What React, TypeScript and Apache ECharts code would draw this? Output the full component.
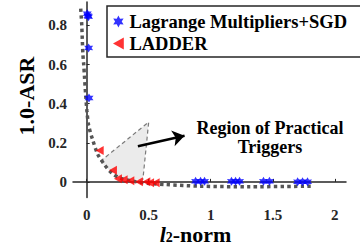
import React, { useEffect, useRef } from "react";
import * as echarts from "echarts";

// Tick values
const xTicks = [0, 0.5, 1, 1.5, 2];
const yTicks = [0, 0.2, 0.4, 0.6, 0.8];

// Fitted trend curve
const curveX = [-0.048, -0.04, -0.035, -0.03, -0.024, -0.016, -0.008, 0.002, 0.016, 0.048, 0.091, 0.145, 0.199, 0.266, 0.373, 0.507, 0.642, 0.91, 1.31, 1.81];
const curveY = [0.886, 0.809, 0.727, 0.65, 0.604, 0.524, 0.446, 0.364, 0.289, 0.216, 0.139, 0.087, 0.047, 0.02, 0.003, -0.008, -0.014, -0.022, -0.025, -0.022];

// Lagrange Multipliers+SGD
const lagX = [0.005, 0.01, 0.015, 0.016, 0.019, 0.878, 0.918, 0.95, 1.167, 1.2, 1.232, 1.425, 1.473, 1.7, 1.74, 1.78];
const lagY = [0.86, 0.85, 0.845, 0.685, 0.429, 0.003, 0.003, 0.003, 0.003, 0.003, 0.003, 0.003, 0.003, 0.0, 0.0, 0.0];

// LADDER
const ladX = [0.105, 0.212, 0.252, 0.298, 0.352, 0.421, 0.481, 0.511, 0.556];
const ladY = [0.161, 0.059, 0.016, 0.011, 0.006, 0.001, 0.001, -0.004, -0.004];

// Region of practical triggers (shaded area)
const regionX = [0.11, 0.5, 0.453, 0.35, 0.27, 0.2, 0.15];
const regionY = [0.105, 0.306, 0.011, 0.012, 0.025, 0.05, 0.08];
// dashed outline: left -> top -> bottom
const outlineIdx = [0, 1, 2];

// Arrow
const arrowFrom = [0.413, 0.182];
const arrowTo = [0.789, 0.236];

const seriesNames = ["Lagrange Multipliers+SGD", "LADDER"];

const STAR =
  "path://M10,0L12.75,5.24L18.66,5L15.5,10L18.66,15L12.75,14.76L10,20L7.25,14.76L1.34,15L4.5,10L1.34,5L7.25,5.24Z";
const TRI_LEFT = "path://M0,5L9,0L9,10Z";

const FONT = "Liberation Serif";
const AXIS_COLOR = "#262626";

export default function App() {
  const ref = useRef<HTMLDivElement>(null);
  useEffect(() => {
    if (!ref.current) return;
    const chart = echarts.init(ref.current, undefined, { renderer: "svg" });
    const axisCommon = {
      type: "value" as const,
      splitLine: { show: false },
      axisLine: { show: true, lineStyle: { color: AXIS_COLOR, width: 1.5 } },
      axisTick: { show: true, inside: true, length: 3, lineStyle: { color: AXIS_COLOR, width: 1 } },
    };
    const option: any = {
      animation: false,
      backgroundColor: "#ffffff",
      textStyle: { fontFamily: FONT },
      grid: { left: 73, top: 2, right: 14, bottom: 49.5, containLabel: false, outerBoundsMode: "none" },
      xAxis: {
        ...axisCommon,
        min: -0.11,
        max: 2.09,
        axisTick: { ...axisCommon.axisTick, customValues: xTicks },
        axisLabel: {
          customValues: xTicks,
          formatter: (v: number) => String(v),
          fontFamily: FONT,
          fontWeight: "bold",
          fontSize: 15,
          color: AXIS_COLOR,
          margin: 10,
        },
      },
      yAxis: {
        ...axisCommon,
        min: -0.08,
        max: 0.92,
        axisTick: { ...axisCommon.axisTick, customValues: yTicks },
        axisLabel: {
          customValues: yTicks,
          formatter: (v: number) => String(v),
          fontFamily: FONT,
          fontWeight: "bold",
          fontSize: 15,
          color: AXIS_COLOR,
          margin: 6,
        },
      },
      legend: {
        data: seriesNames,
        orient: "vertical",
        left: 107,
        top: 6,
        borderColor: AXIS_COLOR,
        borderWidth: 1.5,
        padding: [6, 17, 4, 6],
        itemWidth: 12,
        itemHeight: 12,
        itemGap: 3,
        textStyle: { fontFamily: FONT, fontWeight: "bold", fontSize: 18.5, color: "#000", lineHeight: 18 },
      },
      graphic: [
        {
          type: "text",
          x: 270,
          y: 137.5,
          style: {
            text: "Region of Practical\nTriggers",
            align: "center",
            verticalAlign: "middle",
            lineHeight: 19,
            fontFamily: FONT,
            fontWeight: "bold",
            fontSize: 18,
            fill: "#000",
          },
        },
        {
          type: "text",
          x: 26,
          y: 96,
          rotation: Math.PI / 2,
          style: {
            text: "1.0-ASR",
            align: "center",
            verticalAlign: "middle",
            fontFamily: FONT,
            fontWeight: "bold",
            fontSize: 22,
            fill: "#000",
          },
        },
        {
          type: "text",
          x: 195.5,
          y: 234,
          style: {
            text: "{i|l}{s|2}{n|-norm}",
            align: "center",
            verticalAlign: "middle",
            fill: "#000",
            rich: {
              i: { fontFamily: FONT, fontWeight: "bold", fontStyle: "italic", fontSize: 22, lineHeight: 20 },
              s: { fontFamily: FONT, fontWeight: "bold", fontSize: 14, lineHeight: 20, verticalAlign: "bottom" },
              n: { fontFamily: FONT, fontWeight: "bold", fontSize: 22, lineHeight: 20 },
            },
          },
        },
      ],
      series: [
        {
          type: "custom",
          name: "region",
          silent: true,
          z: 1,
          data: [0],
          renderItem: (_params: any, api: any) => {
            const pts = regionX.map((x, i) => api.coord([x, regionY[i]]));
            const outline = outlineIdx.map((i) => pts[i]);
            return {
              type: "group",
              children: [
                { type: "polygon", shape: { points: pts }, style: { fill: "#ebebeb", stroke: "none" } },
                {
                  type: "polyline",
                  shape: { points: outline },
                  style: { fill: "none", stroke: "#7a7a7a", lineWidth: 1.2, lineDash: [4, 3] },
                },
              ],
            };
          },
          markLine: {
            silent: true,
            symbol: ["none", "arrow"],
            symbolSize: 12,
            label: { show: false },
            lineStyle: { color: "#000", width: 2.5, type: "solid" },
            data: [[{ coord: arrowFrom }, { coord: arrowTo }]],
          },
        },
        {
          type: "line",
          name: "fit",
          z: 2,
          data: curveX.map((x, i) => [x, curveY[i]]),
          showSymbol: false,
          smooth: 0.3,
          lineStyle: { color: "#555555", width: 3.5, type: [3.4, 3.3], cap: "butt" },
        },
        {
          type: "scatter",
          name: seriesNames[0],
          z: 3,
          symbol: STAR,
          symbolSize: 9,
          itemStyle: { color: "#0000ff" },
          data: lagX.map((x, i) => [x, lagY[i]]),
        },
        {
          type: "scatter",
          name: seriesNames[1],
          z: 3,
          symbol: TRI_LEFT,
          symbolSize: [8, 9],
          itemStyle: { color: "#ff0000" },
          data: ladX.map((x, i) => [x, ladY[i]]),
        },
      ],
    };
    chart.setOption(option);
    return () => chart.dispose();
  }, []);
  return (
    <div
      ref={ref}
      style={{ position: "fixed", left: 0, top: 0, width: 360, height: 247 }}
    />
  );
}
